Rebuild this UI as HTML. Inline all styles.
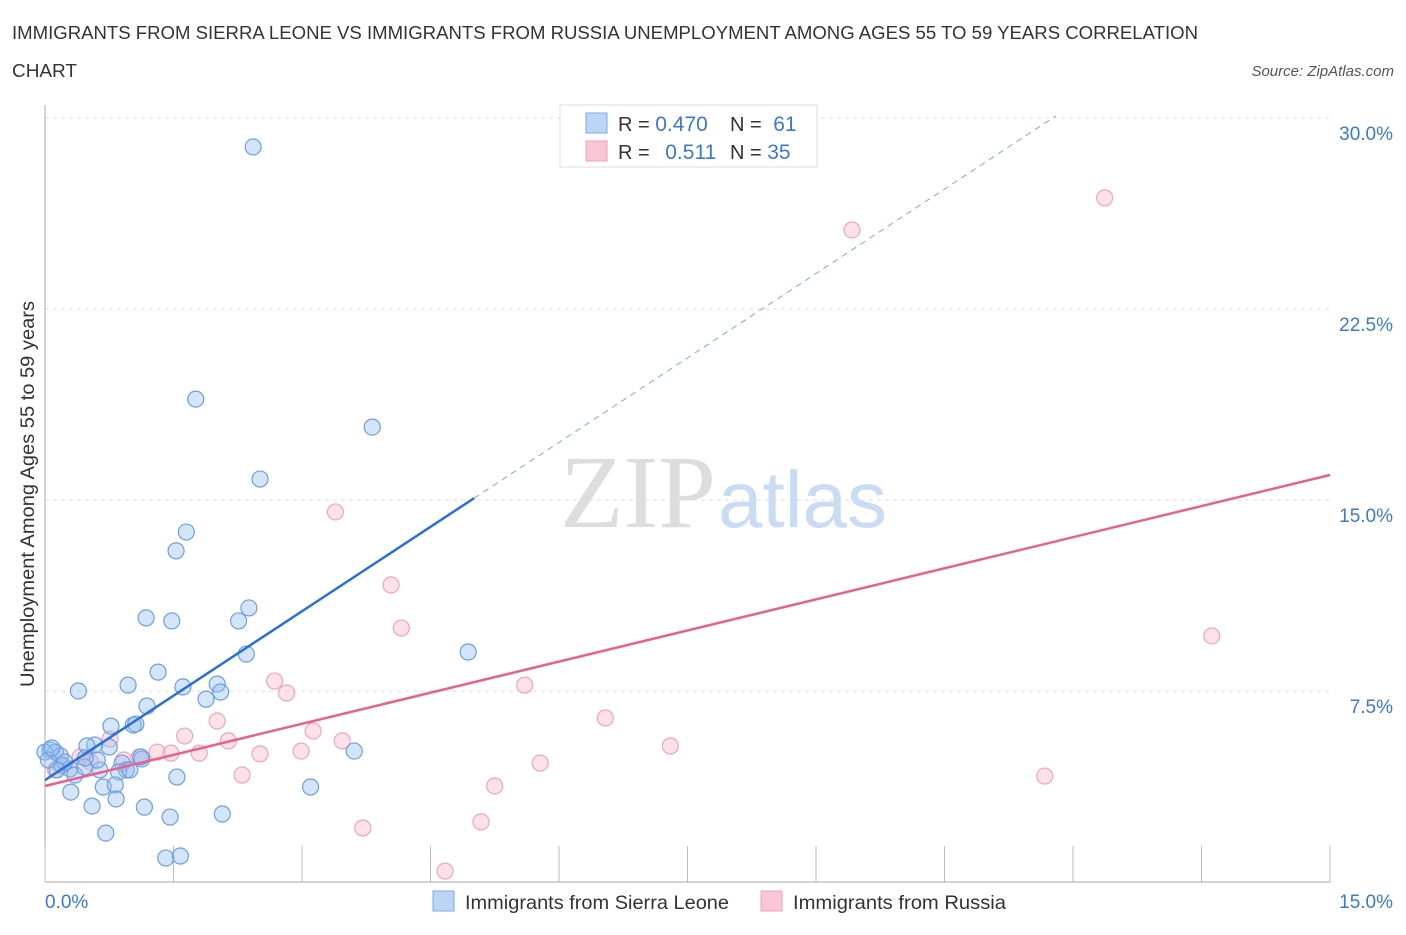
<!DOCTYPE html>
<html><head><meta charset="utf-8"><style>
body{margin:0;background:#fff;font-family:"Liberation Sans",sans-serif;}
svg text{font-family:"Liberation Sans",sans-serif;}
</style></head><body>
<svg id="chart" width="1406" height="930">
<text x="12" y="39" font-size="18" fill="#333" textLength="1186" lengthAdjust="spacingAndGlyphs">IMMIGRANTS FROM SIERRA LEONE VS IMMIGRANTS FROM RUSSIA UNEMPLOYMENT AMONG AGES 55 TO 59 YEARS CORRELATION</text>
<text x="12" y="77" font-size="18" fill="#333" textLength="65" lengthAdjust="spacingAndGlyphs">CHART</text>
<text x="1394" y="76" font-size="15" fill="#555" font-style="italic" text-anchor="end">Source: ZipAtlas.com</text>
<g id="grid"></g>
<text x="716" y="527" font-size="104" fill="#ddd" text-anchor="end" style="font-family:'Liberation Serif',serif">ZIP</text>
<text x="718" y="527" font-size="80" fill="#c9dcf3">atlas</text>
<g id="axes"></g>
<g id="pts"></g>
<g id="lines"></g>
<text transform="translate(34,494) rotate(-90)" font-size="19" fill="#333" text-anchor="middle" textLength="386" lengthAdjust="spacingAndGlyphs">Unemployment Among Ages 55 to 59 years</text>
<g>
<rect x="560" y="105" width="257" height="62" fill="#fff" stroke="#ddd"/>
<rect x="586" y="113" width="21" height="20" fill="#bcd5f5" stroke="#7aa8e8"/>
<rect x="586" y="141" width="21" height="20" fill="#f9c6d5" stroke="#eda3ba"/>
<text x="618" y="131" font-size="20" fill="#333">R = <tspan fill="#3b78d0" font-size="21">0.470</tspan></text>
<text x="730" y="131" font-size="20" fill="#333">N = <tspan fill="#3b78d0" dx="6" font-size="21">61</tspan></text>
<text x="618" y="159" font-size="20" fill="#333">R = <tspan fill="#3b78d0" dx="10" font-size="21">0.511</tspan></text>
<text x="730" y="159" font-size="20" fill="#333">N = <tspan fill="#3b78d0" font-size="21">35</tspan></text>
</g>
<g>
<rect x="433" y="891" width="21" height="20" fill="#bcd5f5" stroke="#7aa8e8"/>
<text x="465" y="909" font-size="19.5" fill="#333" textLength="264" lengthAdjust="spacingAndGlyphs">Immigrants from Sierra Leone</text>
<rect x="761" y="891" width="21" height="20" fill="#f9c6d5" stroke="#eda3ba"/>
<text x="793" y="909" font-size="19.5" fill="#333" textLength="213" lengthAdjust="spacingAndGlyphs">Immigrants from Russia</text>
</g>
</svg>
<script>
const yTicks=[7.5,15,22.5,30];
const yTickLabels=["7.5%","15.0%","22.5%","30.0%"];
const xTickLabels=["0.0%","15.0%"];
const blueX=[2.43,1.76,3.82,2.51,1.65,1.53,2.38,1.18,1.48,2.26,2.35,4.94,1.32,0.39,0.97,1.61,2.01,1.88,2.05,1.19,0.77,1.03,1.06,0.75,0.58,0.49,0.06,0.12,0.18,0.20,0.29,0.35,0.46,0.64,0.61,0.90,0.95,0.86,1.13,1.12,3.61,1.54,0.68,0.82,0.30,0.83,0.55,1.16,3.10,2.07,1.46,0.71,1.41,1.58,0.0,0.23,0.14,0.04,0.08,0.47,0.99];
const blueY=[28.86,18.96,17.86,15.82,13.74,13.0,10.76,10.37,10.25,10.25,8.95,9.03,8.24,7.50,7.73,7.66,7.77,7.18,7.46,6.91,6.12,6.16,6.20,5.30,5.38,5.34,5.18,5.10,4.95,4.59,4.44,4.20,4.52,4.40,4.79,4.67,4.40,4.32,4.83,4.91,5.14,4.12,3.73,3.81,3.53,3.26,2.98,2.94,3.73,2.67,2.55,1.92,0.94,1.02,5.10,4.71,4.40,4.79,5.26,4.87,4.40];
const pinkX=[12.37,9.42,3.39,4.04,4.16,13.62,5.60,2.68,2.82,2.01,6.54,1.63,3.13,2.14,3.47,7.30,1.31,1.47,1.80,2.51,2.99,1.10,0.92,0.76,5.78,2.30,11.67,5.25,3.71,5.09,4.67,0.41,0.18,0.12,0.53];
const pinkY=[26.86,25.60,14.53,11.66,9.97,9.66,7.73,7.89,7.42,6.32,6.44,5.73,5.93,5.54,5.54,5.34,5.10,5.06,5.06,5.03,5.14,4.91,4.79,5.61,4.67,4.20,4.16,3.77,2.12,2.36,0.43,4.91,4.59,4.40,4.71];
const blueTrend=[4.0,2.21]; // intercept, slope
const pinkTrend=[3.77,0.814];
const NS="http://www.w3.org/2000/svg";
const X0=45,X1=1330,Y0=882,PX=(X1-X0)/15,PY=25.47;
const sx=v=>X0+v*PX, sy=v=>Y0-v*PY;
function mk(tag,attrs,parent){const e=document.createElementNS(NS,tag);for(const k in attrs)e.setAttribute(k,attrs[k]);parent.appendChild(e);return e;}
const grid=document.getElementById('grid'),axes=document.getElementById('axes');
yTicks.forEach((t,i)=>{
 const l=mk('line',{x1:X0,x2:1330,y1:sy(t),y2:sy(t),stroke:'#ddd','stroke-dasharray':'4,4'},grid);
 
 
 const tx=mk('text',{x:1393,y:sy(t)+22,'font-size':19,fill:'#3b78d0','text-anchor':'end'},axes);
 tx.textContent=yTickLabels[i];
 
 
});
const ya=mk('line',{x1:X0,x2:X0,y1:105,y2:Y0,stroke:'#aaa'},axes);


const xa=mk('line',{x1:X0,x2:X1,y1:Y0,y2:Y0,stroke:'#aaa'},axes);


for(let i=0;i<=10;i++){
 const t=mk('line',{x1:sx(i*1.5),x2:sx(i*1.5),y1:846,y2:Y0,stroke:'#bbb'},axes);
 
 
}
const xl0=mk('text',{x:45,y:908,'font-size':19,fill:'#3b78d0'},axes);xl0.textContent=xTickLabels[0];


const xl1=mk('text',{x:1393,y:908,'font-size':19,fill:'#3b78d0','text-anchor':'end'},axes);xl1.textContent=xTickLabels[1];


const pts=document.getElementById('pts');
pinkX.forEach((x,i)=>{const c=mk('circle',{cx:sx(x),cy:sy(pinkY[i]),r:8,fill:'rgba(248,180,200,0.4)',stroke:'#eea4bb','stroke-width':1.2},pts);
 
 });
blueX.forEach((x,i)=>{const c=mk('circle',{cx:sx(x),cy:sy(blueY[i]),r:8,fill:'rgba(150,190,240,0.4)',stroke:'#6b9fe0','stroke-width':1.2},pts);
 
 });
const lines=document.getElementById('lines');
const bEnd=5.01,bDash=11.8;
const b1=mk('line',{x1:sx(0),y1:sy(blueTrend[0]),x2:sx(bEnd),y2:sy(blueTrend[0]+blueTrend[1]*bEnd),stroke:'#2a6fd6','stroke-width':2.5},lines);


const b2=mk('line',{x1:sx(bEnd),y1:sy(blueTrend[0]+blueTrend[1]*bEnd),x2:sx(bDash),y2:sy(blueTrend[0]+blueTrend[1]*bDash),stroke:'#7aa8e8','stroke-width':1,'stroke-dasharray':'6,5'},lines);


const p1=mk('line',{x1:sx(0),y1:sy(pinkTrend[0]),x2:sx(15),y2:sy(pinkTrend[0]+pinkTrend[1]*15),stroke:'#e8608c','stroke-width':2.5},lines);


</script>
</body></html>
